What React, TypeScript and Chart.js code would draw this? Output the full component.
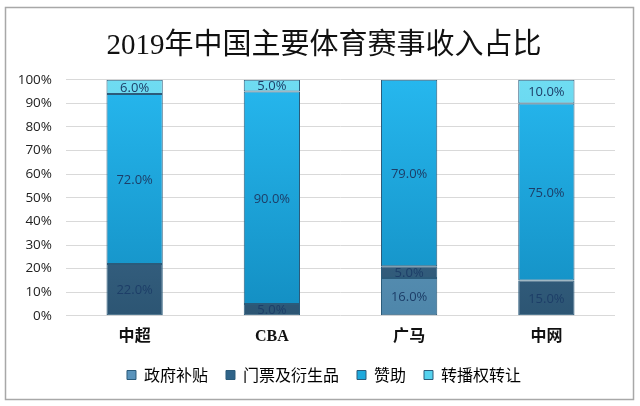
import React, { useEffect, useRef } from "react";
import { Chart, registerables } from "chart.js";

Chart.register(...registerables);

const categories = ["中超", "CBA", "广马", "中网"];
const seriesNames = ["政府补贴", "门票及衍生品", "赞助", "转播权转让"];
const govSubsidy = [0, 0, 16, 0];
const ticketsMerch = [22, 5, 5, 15];
const sponsorship = [72, 90, 79, 75];
const broadcast = [6, 5, 0, 10];
const yTicks = [0, 10, 20, 30, 40, 50, 60, 70, 80, 90, 100];

const colorStops: [string, string][] = [
  ["#6fa5c6", "#4e86aa"],
  ["#48779c", "#2c5573"],
  ["#26b7ee", "#138ec2"],
  ["#6fdcf2", "#4cc6e6"],
];
const legendColors = ["#5993bb", "#2f6388", "#1ea9dc", "#55d2ee"];

const framePlugin = {
  id: "frame",
  beforeDraw(chart: any) {
    const { ctx } = chart;
    ctx.save();
    ctx.fillStyle = "#ffffff";
    ctx.fillRect(0, 0, chart.width, chart.height);
    ctx.strokeStyle = "#a8a8a8";
    ctx.lineWidth = 1.5;
    ctx.strokeRect(5.5, 7.5, 628, 392);
    ctx.restore();
  },
};

const labelPlugin = {
  id: "segLabels",
  afterDatasetsDraw(chart: any) {
    const { ctx } = chart;
    ctx.save();
    ctx.font = "13px 'Open Sans', 'Noto Sans', sans-serif";
    ctx.fillStyle = "#1d3e68";
    ctx.textAlign = "center";
    ctx.textBaseline = "middle";
    chart.data.datasets.forEach((ds: any, di: number) => {
      const meta = chart.getDatasetMeta(di);
      meta.data.forEach((el: any, i: number) => {
        const v = ds.data[i];
        if (!v) return;
        const top = Math.min(el.y, el.base);
        const h = Math.abs(el.base - el.y);
        const x = el.x;
        const w = el.width;
        ctx.save();
        ctx.beginPath();
        ctx.rect(x - w / 2, top, w, h);
        ctx.clip();
        ctx.fillText(v.toFixed(1) + "%", x, top + h / 2 + 1);
        ctx.restore();
      });
    });
    ctx.restore();
  },
};

export default function App() {
  const ref = useRef<HTMLCanvasElement | null>(null);
  useEffect(() => {
    document.body.style.margin = "0";
    if (!ref.current) return;
    const seriesData = [govSubsidy, ticketsMerch, sponsorship, broadcast];
    const makeBg = (k: number) => (context: any) => {
      const area = context.chart.chartArea;
      if (!area) return legendColors[k];
      const g = context.chart.ctx.createLinearGradient(0, area.top, 0, area.bottom);
      g.addColorStop(0, colorStops[k][0]);
      g.addColorStop(1, colorStops[k][1]);
      return g;
    };
    const chart = new Chart(ref.current, {
      type: "bar",
      data: {
        labels: categories,
        datasets: seriesNames.map((name, k) => ({
          label: name,
          data: seriesData[k],
          backgroundColor: makeBg(k),
          borderColor: "#2b5b7a",
          borderWidth: 1,
          borderSkipped: false,
          barPercentage: 0.41,
          categoryPercentage: 1,
        })),
      },
      options: {
        animation: false,
        responsive: false,
        maintainAspectRatio: false,
        layout: { padding: { top: 6, left: 14, right: 6, bottom: 13 } },
        scales: {
          x: {
            stacked: true,
            grid: { display: false, drawTicks: false },
            border: { display: false },
            afterFit(scale: any) {
              scale.height = scale.height - 8;
            },
            ticks: {
              color: "#111",
              padding: 11,
              font: { size: 16, weight: "bold", family: "'Liberation Serif', 'Noto Sans CJK SC', serif" },
            },
          },
          y: {
            stacked: true,
            min: 0,
            max: 100,
            afterBuildTicks(scale: any) {
              scale.ticks = yTicks.map((v) => ({ value: v }));
            },
            afterFit(scale: any) {
              scale.width = 52;
            },
            grid: { color: "#d9d9d9", drawTicks: false },
            border: { display: false },
            ticks: {
              color: "#222",
              padding: 14,
              font: { size: 13.5, family: "'Open Sans', 'Noto Sans', sans-serif" },
              callback: (v: any) => v + "%",
            },
          },
          ySpacer: {
            type: "linear",
            position: "right",
            display: true,
            grid: { display: false, drawTicks: false },
            border: { display: false },
            ticks: { display: false },
            afterFit(scale: any) {
              scale.width = 19;
            },
          },
        },
        plugins: {
          title: {
            display: true,
            text: "2019年中国主要体育赛事收入占比",
            color: "#111",
            padding: { top: 23, bottom: 16 },
            font: { size: 29, weight: "normal", family: "'Liberation Serif', 'Noto Sans CJK SC', serif" },
          },
          legend: {
            position: "bottom",
            labels: {
              boxWidth: 9,
              boxHeight: 9,
              padding: 18,
              color: "#222",
              font: { size: 16, family: "'Noto Sans CJK SC', sans-serif" },
              generateLabels: () =>
                seriesNames.map((n, k) => ({
                  text: n,
                  fillStyle: legendColors[k],
                  strokeStyle: "#2b5b7a",
                  lineWidth: 1,
                  datasetIndex: k,
                  hidden: false,
                })),
            },
          },
          tooltip: { enabled: false },
        },
      },
      plugins: [framePlugin, labelPlugin],
    });
    return () => chart.destroy();
  }, []);
  return <canvas ref={ref} width={640} height={406} style={{ display: "block" }} />;
}
